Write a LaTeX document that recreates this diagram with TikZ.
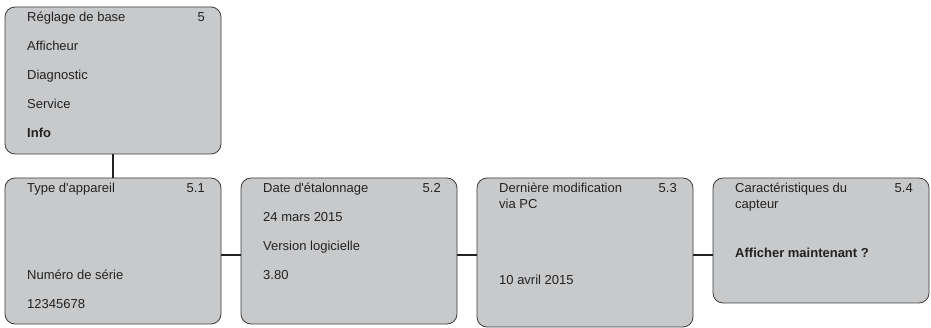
\documentclass[tikz,border=0pt]{standalone}
\usepackage{fontspec}
\setmainfont{Liberation Sans}
\usepackage{tikz}

\definecolor{menufill}{HTML}{C8C9CB}
\definecolor{menuline}{HTML}{3C3C3C}
\definecolor{menutext}{HTML}{222222}

\tikzset{
    menubox/.style={draw=menuline, fill=menufill, line width=0.8pt, rounded corners=10pt,
        minimum width=216pt, inner sep=0pt, outer sep=0pt, anchor=north west},
    entry/.style={anchor=base west, inner sep=0pt, text=menutext,
        font=\fontsize{13}{15.6}\selectfont},
    num/.style={entry, anchor=base east},
    link/.style={draw=menutext, line width=2.6pt},
}

\begin{document}
\begin{tikzpicture}[x=1pt,y=-1pt]
    \useasboundingbox (0,0) rectangle (931,328);

    % boxes
    \node[menubox, minimum height=147pt] (menu) at (5,7) {};
    \node[menubox, minimum height=146pt] (typ) at (5,178) {};
    \node[menubox, minimum height=146pt] (date) at ([xshift=20pt]typ.north east) {};
    \node[menubox, minimum height=149pt] (modif) at ([xshift=20pt]date.north east) {};
    \node[menubox, minimum height=125pt] (capt) at ([xshift=20pt]modif.north east) {};

    % connectors
    \draw[link] (menu.south) -- (typ.north);
    \draw[link] ([yshift=-77pt]typ.north east) -- ([yshift=-77pt]date.north west);
    \draw[link] ([yshift=-77pt]date.north east) -- ([yshift=-77pt]modif.north west);
    \draw[link] ([yshift=-77pt]modif.north east) -- ([yshift=-77pt]capt.north west);

    % main menu
    \node[entry] (m1) at ([shift={(22,14.5)}]menu.north west) {Réglage de base};
    \node[num] (m0) at ([shift={(-16,14.5)}]menu.north east) {5};
    \node[entry] (m2) at ([shift={(22,43.5)}]menu.north west) {Afficheur};
    \node[entry] (m3) at ([shift={(22,72.5)}]menu.north west) {Diagnostic};
    \node[entry] (m4) at ([shift={(22,101.5)}]menu.north west) {Service};
    \node[entry, font=\fontsize{13}{15.6}\selectfont\bfseries] (m5) at ([shift={(22,130.5)}]menu.north west) {Info};

    % 5.1
    \node[entry] (t1) at ([shift={(22,14.5)}]typ.north west) {Type d\textquotesingle appareil};
    \node[num] (t0) at ([shift={(-16,14.5)}]typ.north east) {5.1};
    \node[entry] (t2) at ([shift={(22,101.5)}]typ.north west) {Numéro de série};
    \node[entry] (t3) at ([shift={(22,130.5)}]typ.north west) {12345678};

    % 5.2
    \node[entry] (d1) at ([shift={(22,14.5)}]date.north west) {Date d\textquotesingle étalonnage};
    \node[num] (d0) at ([shift={(-16,14.5)}]date.north east) {5.2};
    \node[entry] (d2) at ([shift={(22,43.5)}]date.north west) {24 mars 2015};
    \node[entry] (d3) at ([shift={(22,72.5)}]date.north west) {Version logicielle};
    \node[entry] (d4) at ([shift={(22,101.5)}]date.north west) {3.80};

    % 5.3
    \node[entry] (p1) at ([shift={(22,14.5)}]modif.north west) {Dernière modification};
    \node[num] (p0) at ([shift={(-16,14.5)}]modif.north east) {5.3};
    \node[entry] (p2) at ([shift={(22,30.1)}]modif.north west) {via PC};
    \node[entry] (p3) at ([shift={(22,106.3)}]modif.north west) {10 avril 2015};

    % 5.4
    \node[entry] (c1) at ([shift={(22,14.5)}]capt.north west) {Caractéristiques du};
    \node[num] (c0) at ([shift={(-16,14.5)}]capt.north east) {5.4};
    \node[entry] (c2) at ([shift={(22,30.1)}]capt.north west) {capteur};
    \node[entry, font=\fontsize{13}{15.6}\selectfont\bfseries] (c3) at ([shift={(22,79.7)}]capt.north west) {Afficher maintenant ?};

\end{tikzpicture}
\end{document}
